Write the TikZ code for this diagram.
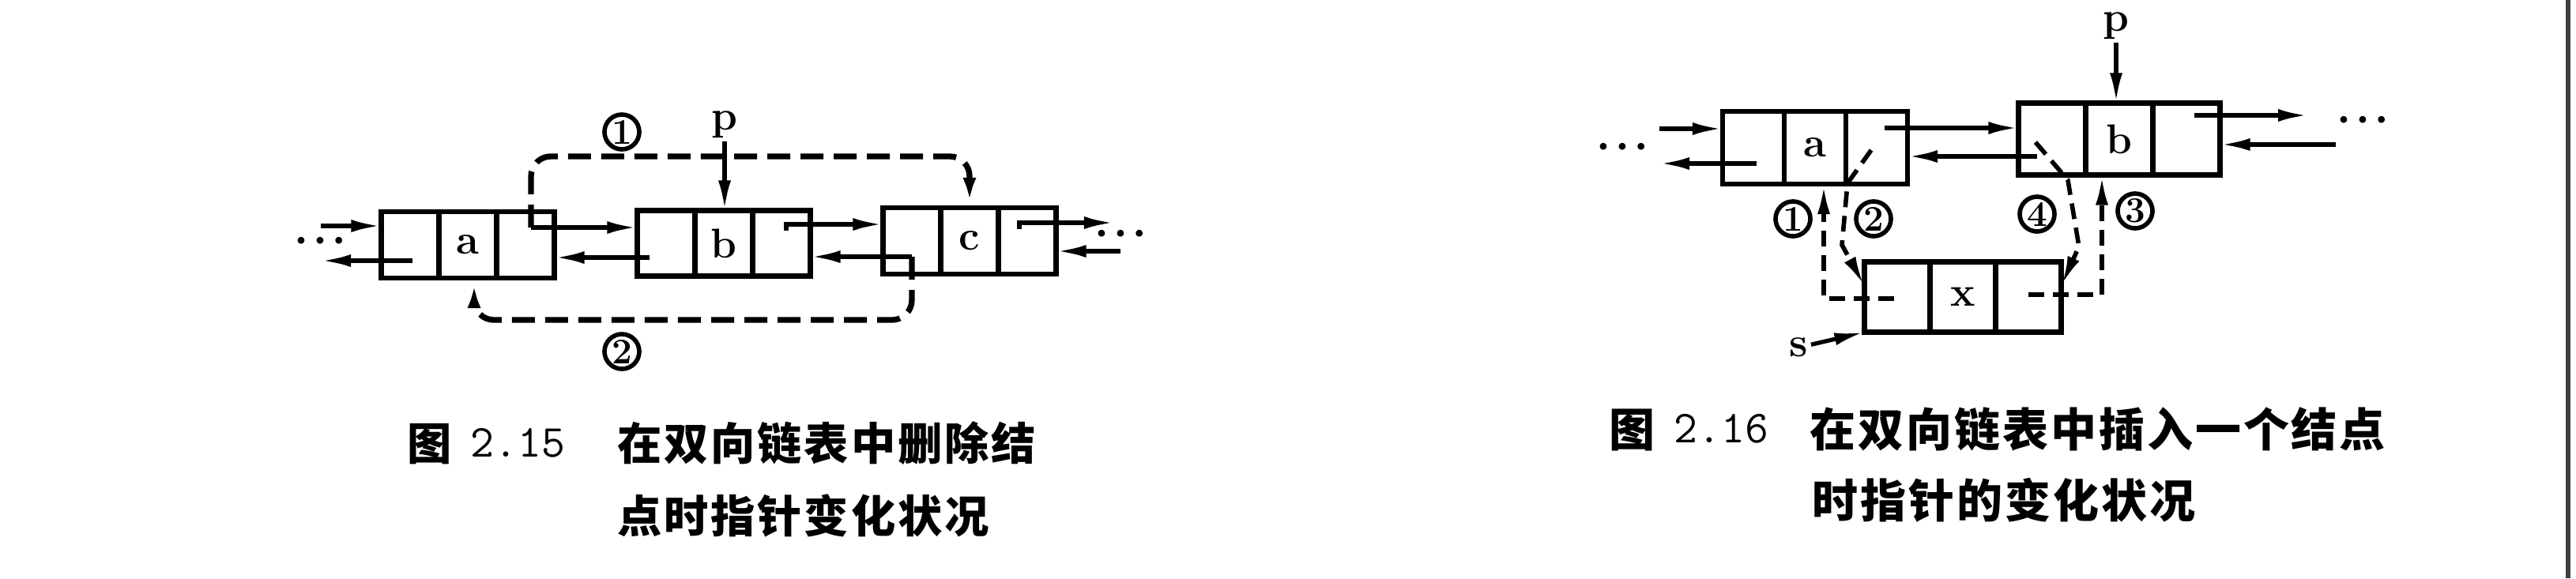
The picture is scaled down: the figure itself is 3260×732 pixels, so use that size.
\documentclass[tikz,border=0pt]{standalone}
\usepackage{fontspec}
\newfontfamily\cjk{Noto Sans CJK SC}[LetterSpace=5]
\usetikzlibrary{arrows.meta,positioning}

\newcommand{\listnode}[5]{%
  \node[cell,minimum width=#4,minimum height=#5] (#1) at #2 {#3};
  \node[cell,minimum width=#4,minimum height=#5,left=0pt of #1] (#1-l) {};
  \node[cell,minimum width=#4,minimum height=#5,right=0pt of #1] (#1-r) {};
}

\begin{document}
\begin{tikzpicture}[x=0.01cm,y=-0.01cm,
  >={Latex[length=3.8mm,width=1.6mm]},
  cell/.style={draw,line width=1.9pt,outer sep=0pt,inner sep=0pt,font=\fontsize{15}{15}\selectfont\bfseries},
  ptr/.style={->,line width=1.5pt},
  dashlink/.style={->,line width=2.1pt,dash pattern=on 2.9mm off 1.3mm,rounded corners=2.5mm},
  thinlink/.style={->,line width=1.6pt,dash pattern=on 2mm off 1.1mm},
  num/.style={circle,draw,line width=1.6pt,minimum size=4.4mm,inner sep=0pt,font=\fontsize{13}{13}\selectfont\bfseries},
  lbl/.style={inner sep=1pt,font=\fontsize{15}{15}\selectfont\bfseries},
  ellip/.style={inner sep=0pt,font=\fontsize{8.5}{8.5}\selectfont},
  captext/.style={anchor=base west,inner sep=0pt,font=\cjk\bfseries\fontsize{16}{16}\selectfont},
  captextr/.style={anchor=base west,inner sep=0pt,font=\cjk\bfseries\fontsize{16.5}{16.5}\selectfont},
  capdigits/.style={anchor=base west,inner sep=0pt,font=\ttfamily\fontsize{16.5}{16.5}\selectfont}]
\useasboundingbox (0,0) rectangle (3260,732);

% Fig. 2.15: deleting a node
\listnode{la}{(592,310)}{a}{0.73cm}{0.84cm}
\listnode{lb}{(916,308)}{b}{0.73cm}{0.83cm}
\listnode{lc}{(1227,305)}{c}{0.73cm}{0.84cm}
\coordinate (la-in) at (406,286);
\coordinate (la-out) at (406,330);
\coordinate (lc-out) at (1410,282);
\coordinate (lc-in) at (1418,318);
\node[ellip] (ldots1) at (405,306) {\textbullet\textbullet\textbullet};
\node[ellip] (ldots2) at (1418,297) {\textbullet\textbullet\textbullet};
\node[lbl] (lp) at (917,158) {p};
\node[num] (l1) at (787,167) {1};
\node[num] (l2) at (787,445) {2};
\draw[ptr] (la-in) -- (la-in -| la-l.west);
\draw[ptr] ([shift={(3,20)}]la-l.center) -- (la-out);
\draw[ptr] ([shift={(7,-22)}]la-r.center) coordinate (la-next) -- (la-next -| lb-l.west);
\draw[ptr] ([shift={(-21,18)}]lb-l.center) coordinate (lb-prev) -- (lb-prev -| la-r.east);
\draw[ptr] ([shift={(6,-16)}]lb-r.center) -- ++(0,-8) coordinate (lb-next) -- (lb-next -| lc-l.west);
\draw[ptr] ([shift={(0,20)}]lc-l.center) coordinate (lc-prev) -- (lc-prev -| lb-r.east);
\draw[ptr] ([shift={(-10,-15)}]lc-r.center) -- ++(0,-8) -- (lc-out);
\draw[ptr] (lc-in) -- (lc-in -| lc-r.east);
\draw[ptr] (lp) -- (lp |- lb.north);
\draw[dashlink] (la-next) |- ([shift={(0,-65)}]lc.north) -- (lc.north);
\draw[dashlink] (lc-prev) |- ([shift={(8,53)}]la.south) -- ([shift={(8,0)}]la.south);

\node[captext] (cap1fig) at (515,582) {图};
\node[capdigits] (cap1num) at (595,578) {2.15};
\node[captext] (cap1a) at (781,582) {在双向链表中删除结};
\node[captext] (cap1b) at (781,674) {点时指针变化状况};

% Fig. 2.16: inserting a node
\listnode{ra}{(2297,187)}{a}{0.78cm}{0.92cm}
\listnode{rb}{(2682,176)}{b}{0.85cm}{0.91cm}
\listnode{rx}{(2484,376)}{x}{0.83cm}{0.89cm}
\coordinate (ra-in) at (2100,163);
\coordinate (ra-out) at (2100,207);
\coordinate (rb-out) at (2921,146);
\coordinate (rb-in) at (2956,183);
\node[ellip] (rdots1) at (2053,187) {\textbullet\textbullet\textbullet};
\node[ellip] (rdots2) at (2990,153) {\textbullet\textbullet\textbullet};
\node[lbl] (rp) at (2678,33) {p};
\node[lbl] (rs) at (2276,440) {s};
\node[num] (r1) at (2269,277) {1};
\node[num] (r2) at (2371,277) {2};
\node[num] (r4) at (2578,271) {4};
\node[num] (r3) at (2702,267) {3};
\draw[ptr] (ra-in) -- (ra-in -| ra-l.west);
\draw[ptr] ([shift={(4,20)}]ra-l.center) -- (ra-out);
\draw[ptr] ([shift={(10,-25)}]ra-r.center) coordinate (ra-next) -- (ra-next -| rb-l.west);
\draw[ptr] ([shift={(-19,22)}]rb-l.center) coordinate (rb-prev) -- (rb-prev -| ra-r.east);
\draw[ptr] ([shift={(10,-30)}]rb-r.center) -- (rb-out);
\draw[ptr] (rb-in) -- (rb-in -| rb-r.east);
\draw[ptr] (rp) -- (rp |- rb.north);
\draw[ptr] (rs) -- (rx-l.south west);
\draw[thinlink] ([shift={(-4,2)}]rx-l.center) -| ([shift={(11,0)}]ra.south);
\draw[thinlink] ([shift={(-7,3)}]ra-r.center) -- ++(-30,42) -- ++(-7,78) -- ([shift={(0,-14)}]rx-l.west);
\draw[thinlink] ([shift={(-21,4)}]rb-l.center) -- ++(41,48) -- ++(14,84) -- ([shift={(0,-14)}]rx-r.east);
\draw[thinlink] ([shift={(0,-3)}]rx-r.center) -| ([shift={(-22,0)}]rb.south);

\node[captextr] (cap2fig) at (2036,565) {图};
\node[capdigits] (cap2num) at (2118,560) {2.16};
\node[captextr] (cap2a) at (2290,565) {在双向链表中插入一个结点};
\node[captextr] (cap2b) at (2293,655) {时指针的变化状况};

\draw[black!75,line width=1.5pt] (3250,0) -- (3250,732);
\end{tikzpicture}
\end{document}
